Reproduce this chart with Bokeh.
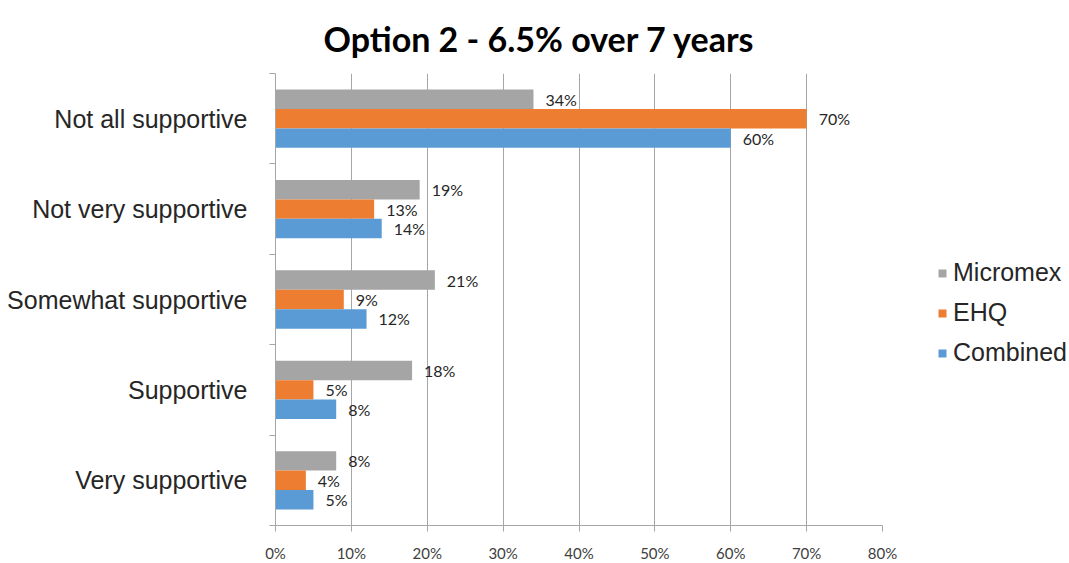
import numpy as np
from bokeh.plotting import figure
from bokeh.models import ColumnDataSource, FixedTicker, Legend, LegendItem, Range1d, LabelSet
from bokeh.core.properties import value
from bokeh.embed import file_html
from bokeh.resources import INLINE

# ---- data ----
categories = ["Not all supportive", "Not very supportive", "Somewhat supportive",
              "Supportive", "Very supportive"]
series_names = ["Micromex", "EHQ", "Combined"]
micromex = [34, 19, 21, 18, 8]
ehq = [70, 13, 9, 5, 4]
combined = [60, 14, 12, 8, 5]
x_ticks = [0, 10, 20, 30, 40, 50, 60, 70, 80]

colors = ["#A5A5A5", "#ED7D31", "#5B9BD5"]
offsets = [0.215, 0.0, -0.215]
bar_h = 0.215

n = len(categories)
centers = [n - i - 0.5 for i in range(n)]

p = figure(frame_width=607, frame_height=452, output_backend="svg", toolbar_location=None,
           x_range=Range1d(0, 80), y_range=Range1d(0, n),
           min_border_left=275, min_border_top=73, min_border_bottom=38,
           min_border_right=0)
p.outline_line_color = None
p.background_fill_color = "white"
p.border_fill_color = "white"

p.title.text = "Option 2 - 6.5% over 7 years"
p.title.align = "left"
p.title.offset = 48
p.title.standoff = 29
p.title.text_font = "Lato"
p.title.text_font_style = "bold"
p.title.text_font_size = "34px"
p.title.text_color = "#000000"

items = []
for name, vals, col, off in zip(series_names, [micromex, ehq, combined], colors, offsets):
    src = ColumnDataSource(dict(
        y=[c + off for c in centers],
        v=vals,
        lab=[f"{v}%" for v in vals],
    ))
    r = p.hbar(y="y", right="v", left=0, height=bar_h, source=src,
               fill_color=col, line_color=None)
    items.append(LegendItem(label=name, renderers=[r]))
    ls = LabelSet(x="v", y="y", text="lab", source=src, x_offset=12,
                  text_baseline="middle", text_font=value("Lato"), text_font_size=value("16px"),
                  text_color="#262626")
    p.add_layout(ls)

# x axis
p.xaxis.ticker = FixedTicker(ticks=x_ticks)
p.xaxis.major_label_overrides = {t: f"{t}%" for t in x_ticks}
p.xaxis.major_label_text_font = "Lato"
p.xaxis.major_label_text_font_size = "15px"
p.xaxis.major_label_text_color = "#404040"
p.xaxis.axis_line_color = "#A6A6A6"
p.xaxis.major_tick_line_color = "#A6A6A6"
p.xaxis.major_tick_out = 6
p.xaxis.major_tick_in = 0
p.xaxis.minor_tick_line_color = None
p.xaxis.major_label_standoff = 12

# y axis: labels at category centers, ticks at boundaries
p.yaxis.ticker = FixedTicker(ticks=centers, minor_ticks=list(range(n + 1)))
p.yaxis.major_label_overrides = {c: cat for c, cat in zip(centers, categories)}
p.yaxis.major_label_text_font = "Liberation Sans"
p.yaxis.major_label_text_font_size = "25px"
p.yaxis.major_label_text_color = "#262626"
p.yaxis.major_tick_line_color = None
p.yaxis.minor_tick_line_color = "#A6A6A6"
p.yaxis.minor_tick_out = 6
p.yaxis.minor_tick_in = 0
p.yaxis.axis_line_color = "#A6A6A6"
p.yaxis.major_label_standoff = 22

p.xgrid.ticker = FixedTicker(ticks=x_ticks)
p.xgrid.grid_line_color = "#A6A6A6"
p.ygrid.grid_line_color = None

legend = Legend(items=items, location=(55, 158), border_line_color=None,
                label_text_font="Liberation Sans", label_text_font_size="25px",
                label_text_color="#262626", glyph_width=10, glyph_height=10,
                label_standoff=6, spacing=11, padding=0, margin=0,
                background_fill_alpha=0)
p.add_layout(legend, "right")

open("out.html", "w").write(file_html(p, INLINE))
